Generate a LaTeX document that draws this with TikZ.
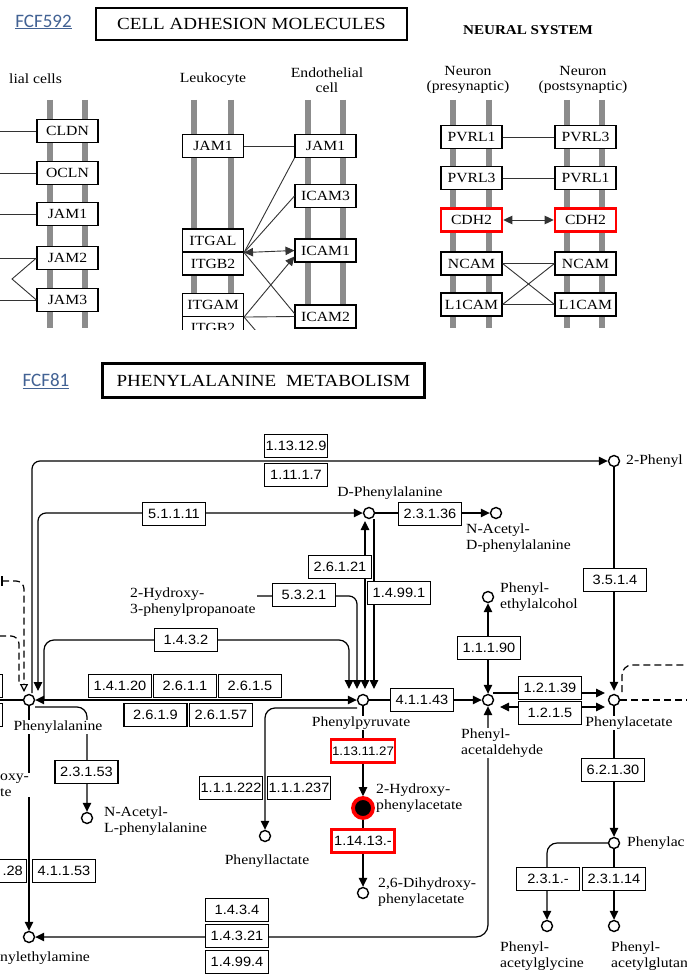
\documentclass[tikz,border=0pt]{standalone}
\usepackage{fontspec}
\usetikzlibrary{arrows.meta,calc,backgrounds}
\newfontfamily\cpd[FakeStretch=1.12]{Liberation Serif}
\newfontfamily\ecf[FakeStretch=1.08]{Liberation Sans}
\newfontfamily\lnk{Carlito}
\definecolor{lnkblue}{RGB}{66,98,148}
\definecolor{membgray}{RGB}{140,140,140}
\tikzset{
 bx/.style={draw, fill=white, line width=1.1pt, minimum width=61pt, minimum height=23pt, inner sep=0pt, font=\cpd\fontsize{14}{14}\selectfont},
 rbx/.style={bx, draw=red, line width=2.6pt},
 ec/.style={draw, fill=white, line width=1.1pt, minimum width=63pt, minimum height=23pt, inner sep=0pt, font=\ecf\fontsize{13.5}{14}\selectfont},
 rec/.style={ec, draw=red, line width=2.6pt},
 cp/.style={circle, draw, fill=white, line width=1.4pt, minimum size=11pt, inner sep=0pt},
 hpastyle/.style={circle, fill=black, draw=red, line width=3.8pt, minimum size=20pt, inner sep=0pt},
 lb/.style={font=\cpd\fontsize{14}{15.5}\selectfont, align=left, inner sep=1pt, fill=white},
 hd/.style={font=\cpd\fontsize{14}{15}\selectfont, align=center, inner sep=0pt},
 memb/.style={draw=membgray, line width=5.5pt},
 al/.style={line width=0.9pt, draw=black!80},
 pl/.style={line width=1.2pt},
 onearrow/.style={-{Triangle[length=9pt,width=8.5pt]}},
 twoarrow/.style={{Triangle[length=9pt,width=8.5pt]}-{Triangle[length=9pt,width=8.5pt]}},
 dsh/.style={pl, dash pattern=on 7pt off 4pt},
}
\begin{document}
\begin{tikzpicture}[x=1pt,y=-1pt]
\useasboundingbox (0,0) rectangle (686,976);

% ---------------- top: cell adhesion molecules ----------------
\node[font=\lnk\fontsize{19}{19}\selectfont, text=lnkblue] (fcf1) at (43.5,22) {\underline{FCF592}};
\node[draw, line width=2pt, minimum width=311pt, minimum height=32pt, inner sep=0pt, font=\cpd\fontsize{17}{17}\selectfont] (ttl1) at (251.5,24) {CELL ADHESION MOLECULES};
\node[font=\cpd\bfseries\fontsize{13.5}{13.5}\selectfont] (ns) at (528,30) {NEURAL SYSTEM};

\node[hd, anchor=west] (h1) at (9,79) {lial cells};
\node[hd] (h2) at (213,79) {Leukocyte};
\node[hd] (h3) at (327,80) {Endothelial\\cell};
\node[hd] (h4) at (468,80) {Neuron\\(presynaptic)};
\node[hd] (h5) at (583,80) {Neuron\\(postsynaptic)};

\node[bx] (cldn) at (67.5,131) {CLDN};
\node[bx] (ocln) at (67.5,173) {OCLN};
\node[bx] (ejam1) at (67.5,214) {JAM1};
\node[bx] (ejam2) at (67.5,258) {JAM2};
\node[bx] (ejam3) at (67.5,300) {JAM3};

\node[bx] (ljam1) at (213,146) {JAM1};
\node[bx] (itgal) at (213,240.5) {ITGAL};
\node[bx] (itgb2) at (213,263.5) {ITGB2};
\node[bx] (itgam) at (213,305) {ITGAM};
\begin{scope}
\clip (0,0) rectangle (686,329);
\node[bx] (itgb2b) at (213,328) {ITGB2};
\draw[al] (itgam.south east) -- ++(12,14);
\end{scope}

\node[bx] (djam1) at (325.5,146) {JAM1};
\node[bx] (icam3) at (325.5,196) {ICAM3};
\node[bx] (icam1) at (325.5,250.5) {ICAM1};
\node[bx] (icam2) at (325.5,316.5) {ICAM2};

\node[bx] (pv1a) at (471.5,137) {PVRL1};
\node[bx] (pv3b) at (585.5,137) {PVRL3};
\node[bx] (pv3a) at (471.5,178) {PVRL3};
\node[bx] (pv1b) at (585.5,178) {PVRL1};
\node[rbx] (cdha) at (471.5,220) {CDH2};
\node[rbx] (cdhb) at (585.5,220) {CDH2};
\node[bx] (ncama) at (471.5,263.5) {NCAM};
\node[bx] (ncamb) at (585.5,263.5) {NCAM};
\node[bx] (l1a) at (471.5,304.5) {L1CAM};
\node[bx] (l1b) at (585.5,304.5) {L1CAM};

\coordinate (ep1) at (0,131);
\coordinate (ep2) at (0,173);
\coordinate (ep3) at (0,214);
\coordinate (ep4) at (0,258);
\coordinate (ep5) at (0,300);
\coordinate (zz) at (12,279);
\draw[al] (ep1) -- (cldn.west);
\draw[al] (ep2) -- (ocln.west);
\draw[al] (ep3) -- (ejam1.west);
\draw[al] (ep4) -- (ejam2.west);
\draw[al] (ep5) -- (ejam3.west);
\draw[al] (ejam2.west) -- (zz) -- (ejam3.west);

\draw[al] (ljam1.east) -- (djam1.west);
\draw[al] (itgal.south east) -- (djam1.south west);
\draw[al] (itgal.south east) -- (icam3.west);
\draw[al, twoarrow] (itgal.south east) -- (icam1.west);
\draw[al] (itgal.south east) -- ($(icam2.west)+(0,-3)$);
\draw[al, onearrow] (itgam.south east) -- ($(icam1.west)+(0,6)$);
\draw[al] (itgam.south east) -- (icam2.west);

\draw[al] (pv1a.east) -- (pv3b.west);
\draw[al] (pv3a.east) -- (pv1b.west);
\draw[al, twoarrow] (cdha.east) -- (cdhb.west);
\draw[al] (ncama.east) -- (ncamb.west);
\draw[al] (l1a.east) -- (l1b.west);
\draw[al] (ncama.east) -- (l1b.west);
\draw[al] (l1a.east) -- (ncamb.west);

% ---------------- bottom: phenylalanine metabolism ----------------
\node[font=\lnk\fontsize{19}{19}\selectfont, text=lnkblue] (fcf2) at (46,381) {\underline{FCF81}};
\node[draw, line width=3pt, minimum width=322pt, minimum height=34pt, inner sep=0pt, font=\cpd\fontsize{17}{17}\selectfont] (ttl2) at (263.5,380.5) {PHENYLALANINE\hspace{5pt} METABOLISM};

% compounds
\node[cp] (phe) at (29,700) {};
\node[cp] (dphe) at (369,513) {};
\node[cp] (nadphe) at (496,513) {};
\node[cp] (phenyl2) at (614,461) {};
\node[cp] (hpp) at (235,596) {};
\node[cp] (ppyr) at (363,700) {};
\node[cp] (pald) at (488,700) {};
\node[cp] (palc) at (488,597) {};
\node[cp] (pac) at (614,700) {};
\node[hpastyle] (hpa) at (363,808) {};
\node[cp] (dhpa) at (363,893) {};
\node[cp] (plac) at (265,836) {};
\node[cp] (nalphe) at (87,818) {};
\node[cp] (pea) at (29,937) {};
\node[cp] (paccoa) at (614,843) {};
\node[cp] (pgly) at (547,926) {};
\node[cp] (pgln) at (614,926) {};

% compound labels
\node[lb] (lphe) at (58,727) {Phenylalanine};
\node[lb] (ldphe) at (390,493) {D-Phenylalanine};
\node[lb, anchor=north west] (lnadphe) at (465,523) {N-Acetyl-\\D-phenylalanine};
\node[lb, anchor=west] (lphenyl2) at (625,461) {2-Phenyl};
\node[lb, anchor=north west] (lhpp) at (129,587) {2-Hydroxy-\\3-phenylpropanoate};
\node[lb] (lppyr) at (361,723) {Phenylpyruvate};
\node[lb, anchor=north west] (lpald) at (460,728) {Phenyl-\\acetaldehyde};
\node[lb, anchor=north west] (lpalc) at (499,582) {Phenyl-\\ethylalcohol};
\node[lb] (lpac) at (629,723) {Phenylacetate};
\node[lb, anchor=north west] (lhpa) at (375,783) {2-Hydroxy-\\phenylacetate};
\node[lb, anchor=north west] (ldhpa) at (377,877) {2,6-Dihydroxy-\\phenylacetate};
\node[lb] (lplac) at (267,861) {Phenyllactate};
\node[lb, anchor=north west] (lnalphe) at (103,806) {N-Acetyl-\\L-phenylalanine};
\node[lb, anchor=west] (lpea) at (-1,958) {nylethylamine};
\node[lb, anchor=west] (lpaccoa) at (626,843) {Phenylac};
\node[lb, anchor=north west] (lpgly) at (499,941) {Phenyl-\\acetylglycine};
\node[lb, anchor=north west] (lpgln) at (610,941) {Phenyl-\\acetylglutan};
\node[lb, anchor=north west] (loxy) at (-1,773) {oxy-\\te};

% enzyme boxes
\node[ec] (e1) at (296,446) {1.13.12.9};
\node[ec] (e2) at (296,475) {1.11.1.7};
\node[ec] (e3) at (174,514) {5.1.1.11};
\node[ec] (e4) at (430,514) {2.3.1.36};
\node[ec] (e5) at (340,567) {2.6.1.21};
\node[ec] (e6) at (399,593) {1.4.99.1};
\node[ec] (e7) at (304,595) {5.3.2.1};
\node[ec] (e8) at (186,640) {1.4.3.2};
\node[ec] (e9) at (120,686) {1.4.1.20};
\node[ec] (e10) at (185,686) {2.6.1.1};
\node[ec] (e11) at (250,686) {2.6.1.5};
\node[ec] (e12) at (155.5,715) {2.6.1.9};
\node[ec] (e13) at (221,715) {2.6.1.57};
\node[ec] (e14) at (422,700) {4.1.1.43};
\node[ec] (e15) at (489,648) {1.1.1.90};
\node[ec] (e16) at (550,688) {1.2.1.39};
\node[ec] (e17) at (550,713) {1.2.1.5};
\node[ec] (e18) at (615,580) {3.5.1.4};
\node[ec] (e19) at (613,770) {6.2.1.30};
\node[rec, minimum width=64pt, font=\ecf\fontsize{12.3}{13}\selectfont] (e20) at (363,751) {1.13.11.27};
\node[rec] (e21) at (363,841) {1.14.13.-};
\node[ec] (e22) at (231,788) {1.1.1.222};
\node[ec] (e23) at (299,788) {1.1.1.237};
\node[ec] (e24) at (86.5,772) {2.3.1.53};
\node[ec, anchor=east] (e25) at (27,871) {};
\node[font=\ecf\fontsize{13.5}{14}\selectfont, inner sep=0pt, anchor=east] (e25t) at ($(e25.east)+(-4,0)$) {.28};
\node[ec] (e26) at (64,871) {4.1.1.53};
\node[ec] (e27) at (237,910) {1.4.3.4};
\node[ec] (e28) at (237,936) {1.4.3.21};
\node[ec] (e29) at (237,962) {1.4.99.4};
\node[ec] (e30) at (548,879) {2.3.1.-};
\node[ec] (e31) at (614,879) {2.3.1.14};
\node[ec, anchor=east] (lp1) at (3,686) {};
\node[ec, anchor=east] (lp2) at (3,715) {};

\coordinate (lft) at (-2,700);
\coordinate (d1) at (2,581);
\coordinate (d1e) at (24,692);
\coordinate (d2) at (-1,636);
\coordinate (d2e) at (19,684);
\coordinate (r1) at (690,665);
\coordinate (r2) at (690,700);

\begin{pgfonlayer}{background}
\fill[white] (0,0) rectangle (686,976);
\foreach \x in {50,85,194,231,308,343,453,489,567,602} \draw[memb] (\x,100) -- (\x,328);

% pathway connectors
\draw[pl, onearrow, rounded corners=8pt] ($(phe)+(3,-7)$) |- (phenyl2.west);
\draw[pl, twoarrow, rounded corners=8pt] ($(phe)+(9,-9)$) |- (dphe.west);
\draw[pl] (phe.west) -- (lft);
\draw[pl] (2,576) -- (2,586);
\draw[dsh, rounded corners=8pt, -{Triangle[open,length=8pt,width=8pt]}] (d1) -| (d1e);
\draw[dsh, rounded corners=8pt] (d2) -| (d2e);
\draw[pl, twoarrow] (phe.east) -- (ppyr.west);
\draw[pl, onearrow, rounded corners=10pt] ($(phe)+(15,0)$) |- (e8.west) -| ($(ppyr)+(-14,-11)$);
\draw[pl, twoarrow, rounded corners=8pt] (hpp.east) -| ($(ppyr)+(-6,-11)$);
\draw[pl, twoarrow] ($(ppyr)+(2,-11)$) -- ($(dphe)+(-4,8)$);
\draw[pl, onearrow] ($(dphe)+(5,6)$) -- ($(ppyr)+(11,-11)$);
\draw[pl, onearrow] (dphe.east) -- (nadphe.west);
\draw[pl, onearrow] (ppyr.east) -- (pald.west);
\draw[pl, twoarrow] (pald.north) -- (palc.south);
\draw[pl, onearrow] ($(pald)+(5,-7)$) -- ($(pac)+(-9,-7)$);
\draw[pl, twoarrow] ($(pald)+(12,7)$) -- ($(pac)+(-9,7)$);
\draw[pl, onearrow, shorten >=3pt] (phenyl2.south) -- (pac.north);
\draw[dsh, rounded corners=10pt] ($(pac)+(8,-8)$) |- (r1);
\draw[dsh] (pac.east) -- (r2);
\draw[pl, onearrow] (pac.south) -- (paccoa.north);
\draw[pl, onearrow] (paccoa.south) -- (pgln.north);
\draw[pl, onearrow, rounded corners=10pt] (paccoa.west) -| (pgly.north);
\draw[pl, onearrow] (ppyr.south) -- (hpa.north);
\draw[pl, onearrow] (hpa.south) -- (dhpa.north);
\draw[pl, onearrow, rounded corners=10pt] ($(ppyr)+(-6,8)$) -| (plac.north);
\draw[pl, onearrow, rounded corners=10pt] ($(phe)+(6,7)$) -| (nalphe.north);
\draw[pl, onearrow] (phe.south) -- (pea.north);
\draw[pl, twoarrow, rounded corners=12pt] (pald.south) |- (pea.east);
\end{pgfonlayer}
\end{tikzpicture}
\end{document}
